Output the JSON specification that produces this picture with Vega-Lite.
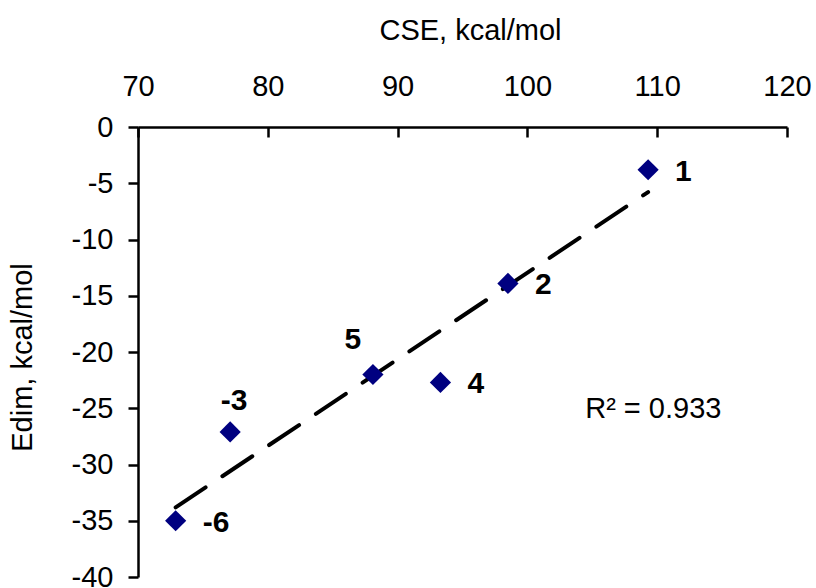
{
  "$schema": "https://vega.github.io/schema/vega-lite/v6.json",
  "width": 649,
  "height": 450,
  "autosize": "none",
  "padding": {"left": 138, "top": 127, "right": 29, "bottom": 11},
  "background": "white",
  "view": {"stroke": null},
  "config": {
    "font": "Liberation Sans",
    "axis": {
      "domainColor": "black",
      "domainWidth": 2.5,
      "tickColor": "black",
      "tickWidth": 2.5,
      "grid": false,
      "labelFont": "Liberation Sans",
      "labelFontSize": 29,
      "labelColor": "black",
      "titleFont": "Liberation Sans",
      "titleFontSize": 29,
      "titleFontWeight": "normal",
      "titleColor": "black"
    }
  },
  "datasets": {
    "pts": [
      {"cse": 109.3, "edim": -3.8, "label": "1"},
      {"cse": 98.5, "edim": -13.9, "label": "2"},
      {"cse": 77.1, "edim": -27.1, "label": "-3"},
      {"cse": 93.3, "edim": -22.7, "label": "4"},
      {"cse": 88.1, "edim": -22.0, "label": "5"},
      {"cse": 72.9, "edim": -35.0, "label": "-6"}
    ],
    "note": [
      {"cse": 109.7, "edim": -25.1, "text": "R² = 0.933"}
    ]
  },
  "layer": [
    {
      "data": {"name": "pts"},
      "transform": [{"regression": "edim", "on": "cse"}],
      "mark": {"type": "line", "color": "black", "strokeWidth": 4, "strokeDash": [36, 20.2], "strokeCap": "round"},
      "encoding": {
        "x": {"field": "cse", "type": "quantitative"},
        "y": {"field": "edim", "type": "quantitative"}
      }
    },
    {
      "data": {"name": "pts"},
      "mark": {"type": "point", "shape": "diamond", "filled": true, "size": 450, "color": "#000080", "opacity": 1},
      "encoding": {
        "x": {
          "field": "cse", "type": "quantitative",
          "scale": {"domain": [70, 120], "nice": false, "zero": false},
          "axis": {
            "orient": "top",
            "values": [70, 80, 90, 100, 110, 120],
            "tickSize": -10,
            "labelPadding": 36,
            "labelFlush": false,
            "title": "CSE, kcal/mol",
            "titleX": 332,
            "titleY": -97,
            "titleAlign": "center",
            "titleBaseline": "middle",
            "titleAnchor": null
          }
        },
        "y": {
          "field": "edim", "type": "quantitative",
          "scale": {"domain": [-40, 0], "nice": false, "zero": false},
          "axis": {
            "orient": "left",
            "values": [0, -5, -10, -15, -20, -25, -30, -35, -40],
            "tickSize": 10,
            "labelPadding": 15,
            "labelFlush": false,
            "labelExpr": "datum.value < 0 ? '-' + abs(datum.value) : '' + datum.value",
            "title": "Edim, kcal/mol",
            "titleX": -116,
            "titleY": 230,
            "titleAngle": -90,
            "titleAlign": "center",
            "titleBaseline": "middle"
          }
        }
      }
    },
    {
      "data": {"name": "pts"},
      "transform": [{"filter": "datum.label == '1' || datum.label == '2' || datum.label == '4' || datum.label == '-6'"}],
      "mark": {"type": "text", "align": "left", "baseline": "middle", "dx": 27, "dy": 2, "fontSize": 30, "fontWeight": "bold", "font": "Liberation Sans", "color": "black"},
      "encoding": {
        "x": {"field": "cse", "type": "quantitative"},
        "y": {"field": "edim", "type": "quantitative"},
        "text": {"field": "label"}
      }
    },
    {
      "data": {"name": "pts"},
      "transform": [{"filter": "datum.label == '5'"}],
      "mark": {"type": "text", "align": "center", "baseline": "middle", "dx": -20, "dy": -35, "fontSize": 30, "fontWeight": "bold", "font": "Liberation Sans", "color": "black"},
      "encoding": {
        "x": {"field": "cse", "type": "quantitative"},
        "y": {"field": "edim", "type": "quantitative"},
        "text": {"field": "label"}
      }
    },
    {
      "data": {"name": "pts"},
      "transform": [{"filter": "datum.label == '-3'"}],
      "mark": {"type": "text", "align": "center", "baseline": "middle", "dx": 4, "dy": -31, "fontSize": 30, "fontWeight": "bold", "font": "Liberation Sans", "color": "black"},
      "encoding": {
        "x": {"field": "cse", "type": "quantitative"},
        "y": {"field": "edim", "type": "quantitative"},
        "text": {"field": "label"}
      }
    },
    {
      "data": {"name": "note"},
      "mark": {"type": "text", "align": "center", "baseline": "middle", "fontSize": 29, "font": "Liberation Sans", "color": "black"},
      "encoding": {
        "x": {"field": "cse", "type": "quantitative"},
        "y": {"field": "edim", "type": "quantitative"},
        "text": {"field": "text"}
      }
    }
  ]
}
